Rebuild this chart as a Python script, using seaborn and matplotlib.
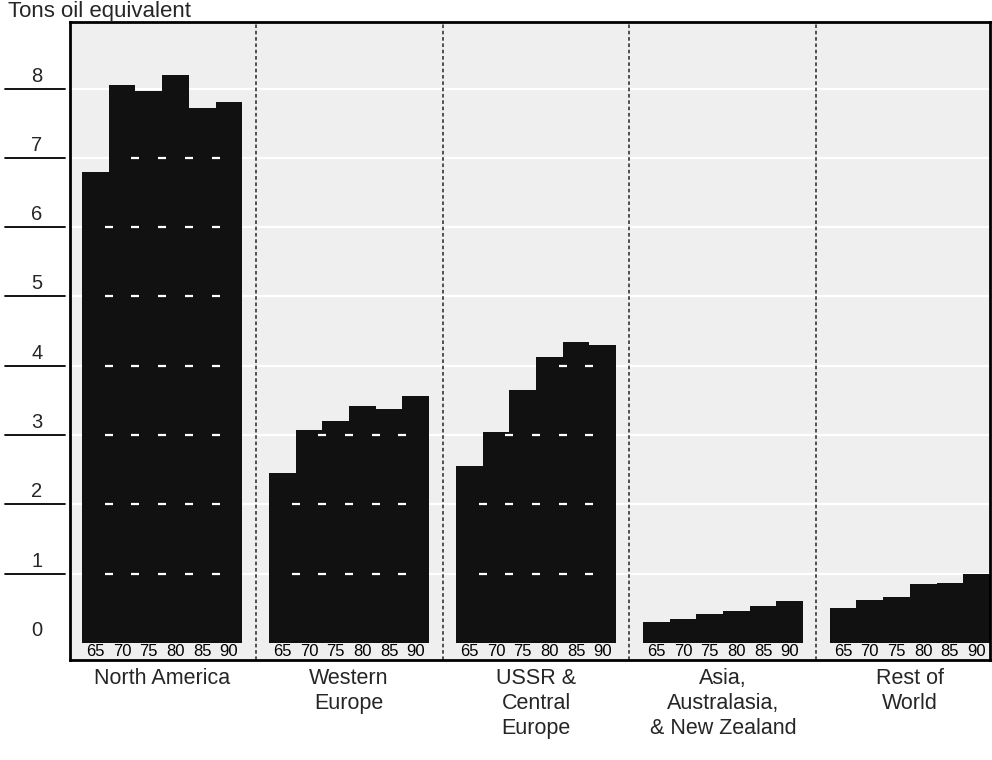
import matplotlib
matplotlib.use("Agg")
import matplotlib.pyplot as plt
import numpy as np
import pandas as pd
import seaborn as sns

# energy use per head, tons oil equivalent
years = ["65", "70", "75", "80", "85", "90"]
regions = ["North America", "Western\nEurope", "USSR &\nCentral\nEurope",
           "Asia,\nAustralasia,\n& New Zealand", "Rest of\nWorld"]
north_america = [6.8, 8.05, 7.97, 8.2, 7.72, 7.8]
western_europe = [2.45, 3.08, 3.2, 3.42, 3.37, 3.57]
ussr_central_europe = [2.55, 3.05, 3.65, 4.13, 4.35, 4.3]
asia_australasia = [0.3, 0.35, 0.42, 0.46, 0.53, 0.6]
rest_of_world = [0.5, 0.62, 0.67, 0.85, 0.87, 1.0]
y_ticks = [0, 1, 2, 3, 4, 5, 6, 7, 8]

series = [north_america, western_europe, ussr_central_europe,
          asia_australasia, rest_of_world]
gap = 7  # slots per group (6 bars + 1 gap)

rows = []
for i, vals in enumerate(series):
    for j, v in enumerate(vals):
        rows.append({"region": regions[i], "year": years[j],
                     "pos": i * gap + j, "value": v})
df = pd.DataFrame(rows)

sns.set_style("white")
plt.rcParams["font.family"] = ["Liberation Sans", "DejaVu Sans"]

fig = plt.figure(figsize=(9.92, 7.6), dpi=100)
ax = fig.add_axes([70 / 992, 1 - 660 / 760, 920 / 992, 638 / 760])
ax.set_facecolor("#efefef")

# white grid behind bars
for v in y_ticks[1:]:
    ax.axhline(v, color="white", lw=1.6, zorder=0)

sns.barplot(data=df, x="pos", y="value", native_scale=True, width=1.0,
            color="#111111", errorbar=None, linewidth=0, ax=ax, zorder=2)

# white dashes where grid crosses bar boundaries
dx, dy = [], []
for i, vals in enumerate(series):
    for j in range(len(vals) - 1):
        for v in y_ticks[1:]:
            if v < min(vals[j], vals[j + 1]):
                dx.append(i * gap + j + 0.5)
                dy.append(v)
ax.scatter(dx, dy, marker="_", s=40, color="white", linewidths=1.6, zorder=3)

# group separators
for i in range(1, len(series)):
    ax.axvline(i * gap - 1, color="#444444", lw=1.3, ls=(0, (2, 1.5)), zorder=1)

# year labels under bars, inside frame
for _, r in df.iterrows():
    ax.text(r["pos"], -0.12, r["year"], ha="center", va="center",
            fontsize=12, color="black", zorder=4)

ax.set_xlim(-0.95, 33.5)
ax.set_ylim(-0.245, 8.96)

centers = [i * gap + 2.5 for i in range(len(series))]
ax.set_xticks(centers, labels=regions)
ax.tick_params(axis="x", length=0, pad=6, labelsize=15.5)
for lab in ax.get_xticklabels():
    lab.set_linespacing(1.25)
ax.set_yticks([])
ax.set_xlabel("")
ax.set_ylabel("")

# y labels sit above short rule lines left of the frame
ytr = ax.get_yaxis_transform()
for v in y_ticks:
    ax.text(-0.036, v + 0.18, str(v), transform=ytr, ha="center",
            va="center", fontsize=14.5, clip_on=False)
    if v > 0:
        ax.plot([-0.071, -0.005], [v, v], transform=ytr, color="black",
                lw=1.3, clip_on=False)

for s in ax.spines.values():
    s.set_visible(True)
    s.set_color("black")
    s.set_linewidth(2)

fig.text(0.008, 1 - 17 / 760, "Tons oil equivalent", fontsize=16,
         va="baseline", ha="left")

fig.savefig("out.png", dpi=100)
